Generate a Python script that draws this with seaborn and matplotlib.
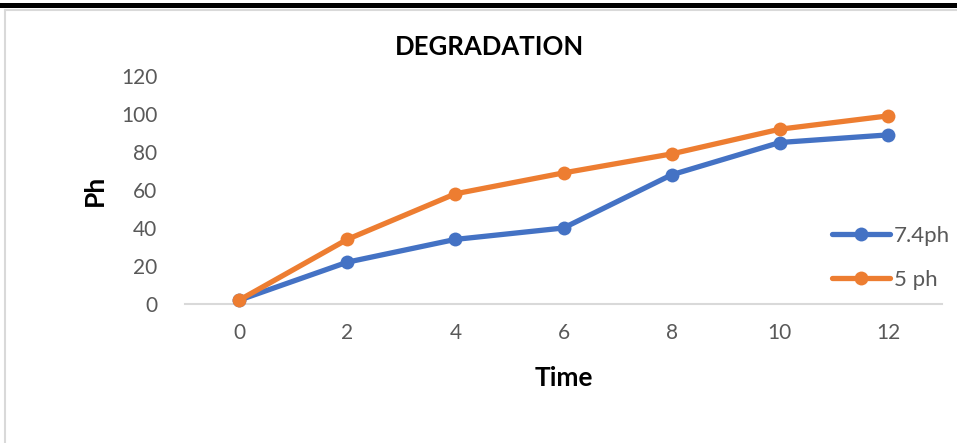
import matplotlib
matplotlib.use("Agg")
import matplotlib.pyplot as plt
import seaborn as sns
import pandas as pd
from matplotlib.lines import Line2D
from matplotlib.patches import Rectangle

time = [0, 2, 4, 6, 8, 10, 12]
ph74 = [2, 22, 34, 40, 68, 85, 89]
ph5 = [2, 34, 58, 69, 79, 92, 99]
series_names = ["7.4ph", "5 ph"]
colors = ["#4472C4", "#ED7D31"]
yticks = [0, 20, 40, 60, 80, 100, 120]

df = pd.DataFrame({
    "Time": time * 2,
    "Value": ph74 + ph5,
    "Series": [series_names[0]] * len(time) + [series_names[1]] * len(time),
})

sns.set_theme(style="white")
plt.rcParams["font.family"] = ["Lato", "DejaVu Sans"]

fig = plt.figure(figsize=(9.57, 4.43), dpi=100)
ax = fig.add_axes([185 / 957, 1 - 304 / 443, (942 - 185) / 957, (304 - 76) / 443])

sns.lineplot(data=df, x="Time", y="Value", hue="Series", palette=colors,
             marker="o", markersize=10, linewidth=3.8, markeredgewidth=0,
             ax=ax, legend=False)

ax.set_xlim(-1, 13)
ax.set_ylim(0, 120)
ax.set_xticks(time)
ax.set_yticks(yticks)
ax.tick_params(axis="both", length=0, labelsize=15, labelcolor="#595959")
ax.tick_params(axis="x", pad=14)
ax.tick_params(axis="y", pad=20)
for s in ["top", "right", "left"]:
    ax.spines[s].set_visible(False)
ax.spines["bottom"].set_color("#D9D9D9")
ax.spines["bottom"].set_linewidth(1.5)
ax.spines["bottom"].set_zorder(0)
ax.grid(False)
for l in ax.lines:
    l.set_clip_on(False)

ax.set_xlabel("Time", fontsize=19, fontweight="bold", color="black", labelpad=16)
ax.set_ylabel("Ph", fontsize=19, fontweight="bold", color="black", labelpad=10)
fig.text(490 / 957, 1 - 47 / 443, "DEGRADATION", ha="center", va="center",
         fontsize=18.5, fontweight="bold", color="black")

handles = [Line2D([0], [0], color=c, lw=3.8, marker="o", markersize=10,
                  markeredgewidth=0) for c in colors]
fig.legend(handles, series_names, loc="center left",
           bbox_to_anchor=(812 / 957, 1 - 258 / 443), frameon=False,
           fontsize=16, labelcolor="#595959", handlelength=2.6,
           handletextpad=0.2, labelspacing=1.1)

# page decorations: black bar on top, light frame
fig.patches.append(Rectangle((0, 1 - 8 / 443), 1, 5 / 443, transform=fig.transFigure,
                             facecolor="black", edgecolor="none", zorder=5))
fig.lines.append(Line2D([5 / 957, 1], [1 - 9.5 / 443, 1 - 9.5 / 443], transform=fig.transFigure,
                        color="#D9D9D9", lw=1.5))
fig.lines.append(Line2D([5 / 957, 5 / 957], [0, 1 - 9.5 / 443], transform=fig.transFigure,
                        color="#D9D9D9", lw=1.5))

fig.savefig("out.png", dpi=100)
